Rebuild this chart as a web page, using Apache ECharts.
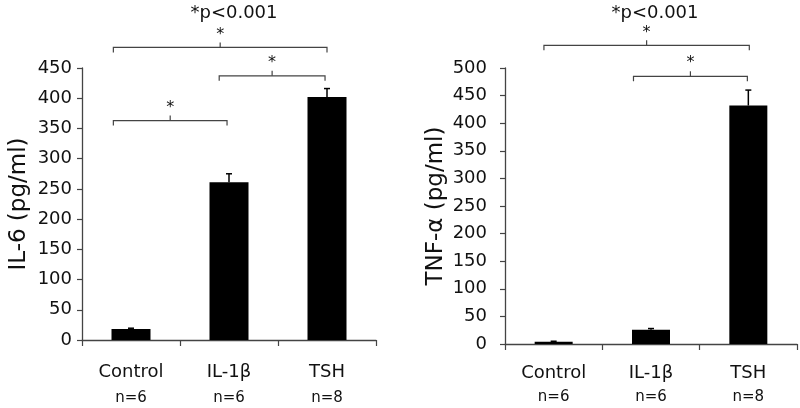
<!DOCTYPE html>
<html>
<head>
<meta charset="utf-8">
<script src="https://cdn.jsdelivr.net/npm/echarts@6/dist/echarts.min.js"></script>
<style>html,body{margin:0;padding:0;background:#fff}#c{width:800px;height:408px}</style>
</head>
<body>
<div id="c"></div>
<script>
const categories = ['Control', 'IL-1β', 'TSH'];
const nLabels = ['n=6', 'n=6', 'n=8'];
const il6Values = [18, 261, 402];
const il6Errors = [1.5, 14, 14];
const tnfValues = [4, 26, 432];
const tnfErrors = [1, 2, 28];
const il6Axis = { min: 0, max: 450, interval: 50 };
const tnfAxis = { min: 0, max: 500, interval: 50 };
// brackets: [from category pos, to category pos, height in data units]
const il6Brackets = [[-0.18, 2.0, 484], [0.9, 1.98, 437], [-0.18, 0.98, 363]];
const tnfBrackets = [[-0.1, 2.01, 541], [0.82, 1.99, 485]];
const sigText = '*p<0.001';

const FONT = 'DejaVu Sans';
const TXT = '#111';
const AX = '#444';

function bracketRender(params, api) {
  const yv = api.value(2);
  const p1 = api.coord([api.value(0), yv]);
  const p2 = api.coord([api.value(1), yv]);
  const y = p1[1];
  const xm = (p1[0] + p2[0]) / 2;
  return {
    type: 'group',
    children: [
      { type: 'polyline', shape: { points: [[p1[0], y + 5], [p1[0], y], [p2[0], y], [p2[0], y + 5]] },
        style: { stroke: AX, fill: null, lineWidth: 1.2 } },
      { type: 'line', shape: { x1: xm, y1: y, x2: xm, y2: y - 5 }, style: { stroke: AX, lineWidth: 1.2 } },
      { type: 'text', x: xm, y: y - 13, style: { text: '*', font: '16px ' + FONT, fill: TXT, align: 'center', verticalAlign: 'middle' } }
    ]
  };
}
function errRender(params, api) {
  const i = api.value(0), v = api.value(1), e = api.value(2);
  const b = api.coord([i, v]);
  const t = api.coord([i, v + e]);
  return {
    type: 'group',
    children: [
      { type: 'line', shape: { x1: b[0], y1: b[1], x2: t[0], y2: t[1] }, style: { stroke: '#000', lineWidth: 1.5 } },
      { type: 'line', shape: { x1: t[0] - 3, y1: t[1], x2: t[0] + 3, y2: t[1] }, style: { stroke: '#000', lineWidth: 1.5 } }
    ]
  };
}
function catAxis(gi, margin, lh) {
  return {
    type: 'category', gridIndex: gi, data: categories,
    axisLine: { onZero: false, lineStyle: { color: AX, width: 1.3 } },
    axisTick: { show: true, length: 6, lineStyle: { color: AX, width: 1.2 } },
    axisLabel: {
      margin: margin, interval: 0,
      formatter: (v, i) => '{a|' + v + '}\n{b|' + nLabels[i] + '}',
      rich: {
        a: { fontFamily: FONT, fontSize: 18, color: TXT, lineHeight: lh },
        b: { fontFamily: FONT, fontSize: 15, color: TXT, lineHeight: lh }
      }
    }
  };
}
function valAxis(gi, ax, name, gap, margin) {
  return {
    type: 'value', gridIndex: gi, min: ax.min, max: ax.max, interval: ax.interval,
    name: name, nameLocation: 'middle', nameGap: gap, nameRotate: 90,
    nameTextStyle: { fontFamily: FONT, fontSize: 23, color: TXT },
    splitLine: { show: false },
    axisLine: { show: true, onZero: false, lineStyle: { color: AX, width: 1.3 } },
    axisTick: { show: true, length: 5, lineStyle: { color: AX, width: 1.2 } },
    axisLabel: { margin: margin, fontFamily: FONT, fontSize: 18, color: TXT }
  };
}
const chart = echarts.init(document.getElementById('c'), null, { renderer: 'canvas' });
chart.setOption({
  animation: false,
  backgroundColor: '#fff',
  grid: [
    { left: 82, right: 424, top: 68, bottom: 68, containLabel: false, outerBoundsMode: 'none' },
    { left: 505, right: 3, top: 68, bottom: 64, containLabel: false, outerBoundsMode: 'none' }
  ],
  xAxis: [
    catAxis(0, 19, 26),
    catAxis(1, 17, 24),
    { type: 'value', gridIndex: 0, min: -0.5, max: 2.5, show: false, axisLine: { onZero: false } },
    { type: 'value', gridIndex: 1, min: -0.5, max: 2.5, show: false, axisLine: { onZero: false } }
  ],
  yAxis: [
    valAxis(0, il6Axis, 'IL-6 (pg/ml)', 51, 10),
    valAxis(1, tnfAxis, 'TNF-α (pg/ml)', 57, 18)
  ],
  graphic: [
    { type: 'text', x: 234, y: 13, style: { text: sigText, font: '18px ' + FONT, fill: TXT, align: 'center', verticalAlign: 'middle' } },
    { type: 'text', x: 655, y: 13, style: { text: sigText, font: '18px ' + FONT, fill: TXT, align: 'center', verticalAlign: 'middle' } }
  ],
  series: [
    { type: 'bar', xAxisIndex: 0, yAxisIndex: 0, data: il6Values, barWidth: 39, itemStyle: { color: '#000' } },
    { type: 'bar', xAxisIndex: 1, yAxisIndex: 1, data: tnfValues, barWidth: 38, itemStyle: { color: '#000' } },
    { type: 'custom', xAxisIndex: 0, yAxisIndex: 0, renderItem: errRender, clip: false,
      data: il6Values.map((v, i) => [i, v, il6Errors[i]]), encode: { x: 0, y: 1 } },
    { type: 'custom', xAxisIndex: 1, yAxisIndex: 1, renderItem: errRender, clip: false,
      data: tnfValues.map((v, i) => [i, v, tnfErrors[i]]), encode: { x: 0, y: 1 } },
    { type: 'custom', xAxisIndex: 2, yAxisIndex: 0, renderItem: bracketRender, clip: false,
      data: il6Brackets, encode: { x: [0, 1], y: 2 } },
    { type: 'custom', xAxisIndex: 3, yAxisIndex: 1, renderItem: bracketRender, clip: false,
      data: tnfBrackets, encode: { x: [0, 1], y: 2 } }
  ]
});
</script>
</body>
</html>
